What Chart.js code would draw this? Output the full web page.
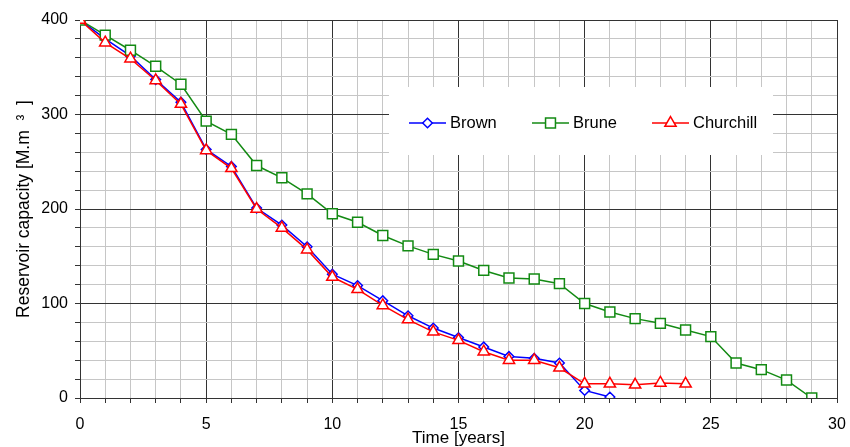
<!DOCTYPE html>
<html>
<head>
<meta charset="utf-8">
<script src="https://cdn.jsdelivr.net/npm/chart.js@4.4.1/dist/chart.umd.min.js"></script>
<style>
html,body{margin:0;padding:0;background:#fff;}
#wrap{width:850px;height:447px;position:relative;}
</style>
</head>
<body>
<div id="wrap"><canvas id="c" width="850" height="447"></canvas></div>
<script>
// ---- data ----
const seriesNames = ['Brown', 'Brune', 'Churchill'];
const brown = [400, 380, 362, 337, 313, 263, 245, 201, 183, 160, 131, 119, 103, 87, 74, 64, 54, 44, 42, 37, 8, 1];
const brune = [400, 384, 368, 351, 332, 293, 279, 246, 233, 216, 195, 186, 172, 161, 152, 145, 135, 127, 126, 121, 100, 91, 84, 79, 72, 65, 37, 30, 19, 0];
const churchill = [400, 376, 359, 336, 311, 262, 243, 200, 180, 157, 128, 115, 98, 83, 70, 61, 49, 40, 40, 32, 15, 15, 14, 16, 15];
const xMajorTicks = [0, 5, 10, 15, 20, 25, 30];
const yMajorTicks = [0, 100, 200, 300, 400];
const xTitle = 'Time [years]';
const yTitle = 'Reservoir capacity [M.m  \u00B3  ]';

const toXY = arr => arr.map((v, i) => ({x: i, y: v}));
const FONT = 'Liberation Sans, Arial, sans-serif';
const MAJOR = '#333333';
const MINOR = '#c6c6c6';

const legendPlugin = {
  id: 'boxLegend',
  afterDatasetsDraw(chart) {
    const ctx = chart.ctx;
    const bx = 389, by = 87, bw = 384, bh = 68;
    ctx.save();
    ctx.fillStyle = '#ffffff';
    ctx.fillRect(bx, by, bw, bh);
    const starts = [409, 532, 652];
    const cy = 123;
    chart.data.datasets.forEach((ds, i) => {
      const x0 = starts[i];
      ctx.strokeStyle = ds.borderColor;
      ctx.lineWidth = 1.5;
      ctx.beginPath();
      ctx.moveTo(x0, cy);
      ctx.lineTo(x0 + 37, cy);
      ctx.stroke();
      const opts = {pointStyle: ds.pointStyle, radius: ds.pointRadius, borderWidth: ds.pointBorderWidth, rotation: 0};
      ctx.fillStyle = '#ffffff';
      ctx.strokeStyle = ds.borderColor;
      ctx.lineWidth = ds.pointBorderWidth;
      if (Chart.helpers && Chart.helpers.drawPoint) {
        Chart.helpers.drawPoint(ctx, opts, x0 + 18.5, cy);
      }
      ctx.fillStyle = '#000000';
      ctx.font = '16.5px ' + FONT;
      ctx.textBaseline = 'middle';
      ctx.textAlign = 'left';
      ctx.fillText(ds.label, x0 + 41, cy);
    });
    ctx.restore();
  }
};

const mk = (label, data, color, style, r, order) => ({
  label, data: toXY(data), borderColor: color, backgroundColor: '#ffffff',
  borderWidth: 1.5, pointStyle: style, pointRadius: r, pointHoverRadius: r,
  pointBorderColor: color, pointBackgroundColor: '#ffffff', pointBorderWidth: 1.5,
  tension: 0, order
});

new Chart(document.getElementById('c'), {
  type: 'line',
  data: {
    datasets: [
      mk(seriesNames[0], brown, '#0000ff', 'rectRot', 4.8, 2),
      mk(seriesNames[1], brune, '#138a13', 'rect', 7, 1),
      mk(seriesNames[2], churchill, '#ff0000', 'triangle', 6.5, 0)
    ]
  },
  options: {
    responsive: false,
    animation: false,
    devicePixelRatio: 1,
    layout: {padding: {left: 0, right: 13, top: 20, bottom: 0}},
    plugins: {legend: {display: false}, tooltip: {enabled: false}},
    scales: {
      x: {
        type: 'linear', min: 0, max: 30,
        afterFit: s => { s.height = 49; s.paddingLeft = 0; s.paddingRight = 0; },
        ticks: {
          stepSize: 1, autoSkip: false, maxTicksLimit: 100, maxRotation: 0,
          color: '#000', padding: 12, font: {family: FONT, size: 16},
          callback: v => xMajorTicks.includes(v) ? String(v) : ''
        },
        grid: {
          color: c => (c.tick && xMajorTicks.includes(c.tick.value)) ? MAJOR : MINOR,
          tickColor: MAJOR, tickLength: 5, lineWidth: 1
        },
        border: {display: true, color: MAJOR, width: 1},
        title: {display: true, text: xTitle, color: '#000', padding: {top: 0, bottom: 0},
                font: {family: FONT, size: 17, lineHeight: 1}}
      },
      y: {
        type: 'linear', min: 0, max: 400,
        afterFit: s => { s.width = 80; },
        ticks: {
          stepSize: 20, autoSkip: false, maxTicksLimit: 100,
          color: '#000', padding: 7, font: {family: FONT, size: 16},
          callback: v => yMajorTicks.includes(v) ? String(v) : ''
        },
        grid: {
          color: c => (c.tick && yMajorTicks.includes(c.tick.value)) ? MAJOR : MINOR,
          tickColor: MAJOR, tickLength: 5, lineWidth: 1
        },
        border: {display: true, color: MAJOR, width: 1},
        title: {display: true, text: yTitle, color: '#000', padding: {top: 15, bottom: 0},
                font: {family: FONT, size: 17.5, lineHeight: 1}}
      }
    }
  },
  plugins: [legendPlugin]
});
</script>
</body>
</html>
